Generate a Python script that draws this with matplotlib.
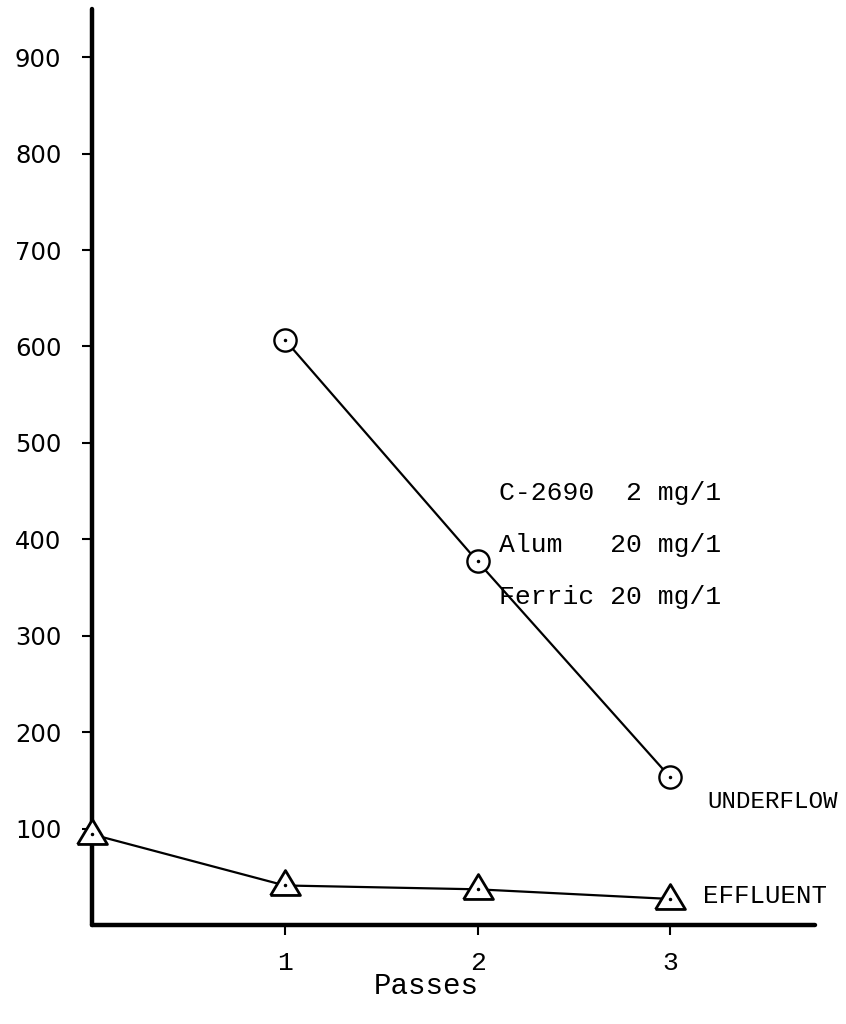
import numpy as np
import matplotlib
matplotlib.use("Agg")
import matplotlib.pyplot as plt

# data
passes_underflow = [1, 2, 3]
underflow = [607, 377, 153]
passes_effluent = [0, 1, 2, 3]
effluent = [94, 41, 37, 27]

y_ticks = [100, 200, 300, 400, 500, 600, 700, 800, 900]
x_ticks = [1, 2, 3]
dose_lines = ["C-2690  2 mg/1", "Alum   20 mg/1", "Ferric 20 mg/1"]

mono = "Liberation Mono"

fig = plt.figure(figsize=(8.46, 10.24), dpi=100)
ax = fig.add_axes([92/846, 1 - 925/1024, (815 - 92)/846, (925 - 9)/1024])

# triangle marker, a bit wider than tall, point sits lower than centre
tri = [(-15, -10), (15, -10), (0, 15), (-15, -10)]

ax.plot(passes_underflow, underflow, color="black", lw=1.6,
        marker="o", ms=16, mfc="white", mec="black", mew=1.7, zorder=3)
ax.plot(passes_underflow, underflow, ls="none", marker=".", ms=3,
        color="black", zorder=4)
ax.plot(passes_effluent, effluent, color="black", lw=1.6,
        marker=tri, ms=21.5, mfc="white", mec="black", mew=2.0, zorder=3,
        clip_on=False)
ax.plot(passes_effluent, effluent, ls="none", marker=".", ms=3,
        color="black", zorder=4, clip_on=False)

ax.set_xlim(0, 3.75)
ax.set_ylim(0, 950)
ax.set_xticks(x_ticks)
ax.set_yticks(y_ticks)
ax.set_xticklabels([str(t) for t in x_ticks], fontfamily=mono, fontsize=19)
ax.set_yticklabels([str(t) for t in y_ticks], fontfamily="DejaVu Sans", fontsize=17.5)

for s in ["top", "right"]:
    ax.spines[s].set_visible(False)
for s in ["left", "bottom"]:
    ax.spines[s].set_linewidth(3.2)
    ax.spines[s].set_capstyle("round")

ax.tick_params(axis="x", length=7, width=1.5, pad=12)
ax.tick_params(axis="y", length=7, width=1.5, pad=15)

for i, line in enumerate(dose_lines):
    ax.text(2.11, 448 - i*54, line, fontfamily=mono, fontsize=19,
            va="center", ha="left")

ax.text(3.19, 128, "UNDERFLOW", fontfamily=mono, fontsize=17.5, va="center", ha="left")
ax.text(3.17, 30, "EFFLUENT", fontfamily=mono, fontsize=18.5, va="center", ha="left")

fig.text(426/846, 1 - 986/1024, "Passes", fontfamily=mono, fontsize=21,
         ha="center", va="center")

fig.savefig("out.png", dpi=100)
plt.close(fig)
